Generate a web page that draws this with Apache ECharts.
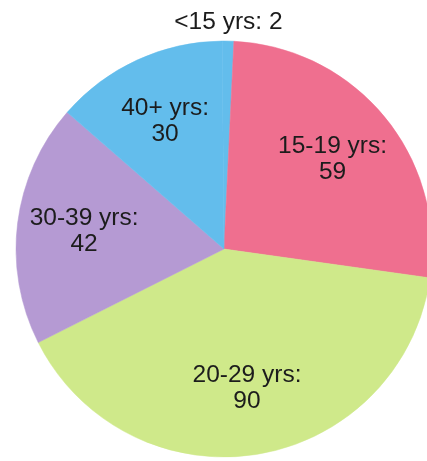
<!DOCTYPE html>
<html>
<head>
<meta charset="utf-8">
<script src="https://cdn.jsdelivr.net/npm/echarts@6/dist/echarts.min.js"></script>
<style>
    html, body { margin: 0; padding: 0; background: #ffffff; }
    #chart { width: 427px; height: 461px; }
</style>
</head>
<body>
<div id="chart"></div>
<script>
    // age groups, clockwise from the top
    const categories = ['<15 yrs', '15-19 yrs', '20-29 yrs', '30-39 yrs', '40+ yrs']
    const counts = [2, 59, 90, 42, 30]
    const colors = ['#63bdec', '#ef6f8f', '#cfe98a', '#b59ad3', '#63bdec']

    let pieData = categories.map((name, i) => ({
        name: name,
        value: counts[i],
        itemStyle: {color: colors[i], borderColor: colors[i], borderWidth: 0.5}
    }))

    // small slice gets its label outside, the rest go inside
    let outerData = pieData.map((d, i) => Object.assign({}, d, {
        label: {show: i === 0}
    }))
    let innerData = pieData.map((d, i) => ({
        name: d.name,
        value: d.value,
        label: {show: i !== 0}
    }))

    let textStyle = {
        fontFamily: 'Liberation Sans, Arial, sans-serif',
        fontSize: 24.5,
        color: '#1c1c1c'
    }

    let option = {
        backgroundColor: '#ffffff',
        animation: false,
        series: [
            {
                type: 'pie',
                center: [224, 249],
                radius: 208,
                startAngle: 90.5,
                clockwise: true,
                silent: true,
                data: outerData,
                label: Object.assign({
                    position: 'outside',
                    formatter: '{b}: {c}',
                    distanceToLabelLine: 0
                }, textStyle),
                labelLine: {show: false, length: 19, length2: 0},
                labelLayout: function () {
                    return {align: 'center'}
                }
            },
            {
                type: 'pie',
                center: [224, 249],
                radius: [68, 208],
                startAngle: 90.5,
                clockwise: true,
                silent: true,
                data: innerData,
                itemStyle: {color: 'rgba(0,0,0,0)', borderWidth: 0},
                label: Object.assign({
                    position: 'inside',
                    formatter: '{b}:\n{c}',
                    lineHeight: 26,
                    align: 'center'
                }, textStyle),
                labelLine: {show: false}
            }
        ]
    }

    let myChart = echarts.init(document.getElementById('chart'))
    myChart.setOption(option)
</script>
</body>
</html>
